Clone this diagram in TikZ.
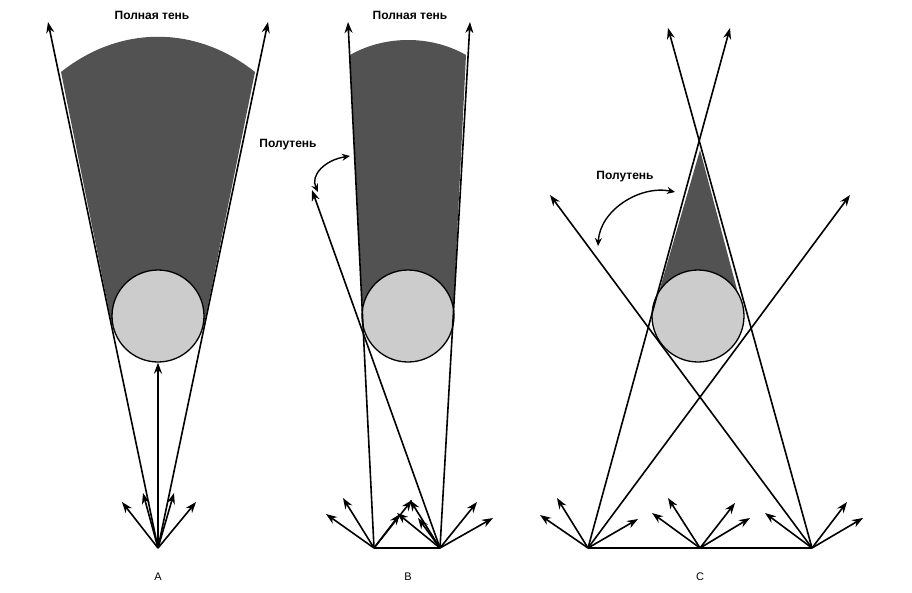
\documentclass[tikz,border=0pt]{standalone}
\usepackage{fontspec}
\setmainfont{Liberation Sans}
\usetikzlibrary{arrows.meta}
\begin{document}
\begin{tikzpicture}[x=1pt,y=-1pt,
  ray/.style={line width=1.6pt,-{Stealth[length=11pt,width=8pt]}},
  line/.style={line width=1.6pt},
  umbra/.style={fill=black!68},
  ball/.style={fill=black!20,draw=black,line width=1.3pt},
  lbl/.style={font=\bfseries\fontsize{12}{14}\selectfont},
  let/.style={font=\fontsize{11}{13}\selectfont}]
\useasboundingbox (0,0) rectangle (912,592);
% ---------- A ----------
\coordinate (sA) at (158,548);
\fill[umbra] (61,72) .. controls (120,25) and (196,25) .. (255,72) -- (204,325) -- (112,325) -- cycle;
\node[ball,circle,minimum size=92pt,inner sep=0] (cA) at (158,316) {};
\draw[ray] (sA) -- (48,22);
\draw[ray] (sA) -- (268,22);
\draw[ray] (sA) -- (cA.south);
\foreach \p in {(122,502),(143,493),(174,493),(196,502)} \draw[ray] (sA) -- \p;
\node[lbl] (tA) at (152,15) {Полная тень};
\node[let] (lA) at (158,577) {A};
% ---------- B ----------
\coordinate (sB1) at (374,548);
\coordinate (sB2) at (440,548);
\fill[umbra] (350,55) .. controls (385,35) and (431,35) .. (466,55) -- (453,316) -- (363,316) -- cycle;
\node[ball,circle,minimum size=92pt,inner sep=0] (cB) at (408,316) {};
\draw[line] (sB1) -- (sB2);
\draw[ray] (sB1) -- (348,22);
\draw[ray] (sB2) -- (470,22);
\draw[ray] (sB2) -- (312,190);
\foreach \p in {(326,514),(343,498),(400,514),(412,500)} \draw[ray] (sB1) -- \p;
\foreach \p in {(410,500),(397,513),(418,518),(477,502),(493,518)} \draw[ray] (sB2) -- \p;
\node[lbl] (tB) at (410,15) {Полная тень};
\node[lbl] (pB) at (288,145) {Полутень};
\coordinate (pB1) at (350,156);
\coordinate (pB2) at (318,192);
\draw[line width=1.4pt,{Stealth[length=8pt,width=7pt]}-{Stealth[length=8pt,width=7pt]}] (pB1) .. controls (325,160) and (310,175) .. (pB2);
\node[let] (lB) at (408,577) {B};
% ---------- C ----------
\coordinate (sC1) at (588,548);
\coordinate (sC2) at (700,548);
\coordinate (sC3) at (812,548);
\fill[umbra] (700,150) -- (744,316) -- (652,316) -- cycle;
\node[ball,circle,minimum size=92pt,inner sep=0] (cC) at (698,316) {};
\draw[line] (sC1) -- (sC3);
\draw[ray] (sC1) -- (730,28);
\draw[ray] (sC3) -- (668,28);
\draw[ray] (sC1) -- (850,195);
\draw[ray] (sC3) -- (550,195);
\foreach \p in {(540,515),(557,498),(638,519)} \draw[ray] (sC1) -- \p;
\foreach \p in {(652,513),(668,498),(735,503),(750,518)} \draw[ray] (sC2) -- \p;
\foreach \p in {(765,513),(847,502),(863,518)} \draw[ray] (sC3) -- \p;
\node[lbl] (pC) at (625,177) {Полутень};
\coordinate (pC1) at (675,192);
\coordinate (pC2) at (598,246);
\draw[line width=1.4pt,{Stealth[length=8pt,width=7pt]}-{Stealth[length=8pt,width=7pt]}] (pC1) .. controls (640,185) and (600,210) .. (pC2);
\node[let] (lC) at (700,577) {C};
\end{tikzpicture}
\end{document}
